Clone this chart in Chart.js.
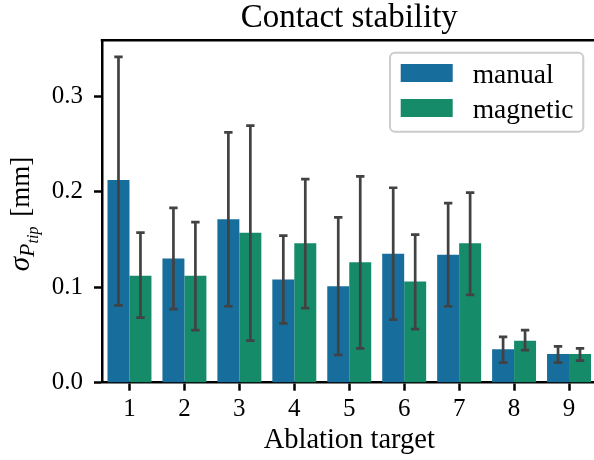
<!DOCTYPE html>
<html><head><meta charset="utf-8">
<script src="https://cdn.jsdelivr.net/npm/chart.js@4/dist/chart.umd.min.js"></script>
<style>
html,body{margin:0;padding:0;overflow:hidden;background:#fff;width:594px;height:460px}
#wrap{width:598px;height:460px;position:relative}
</style>
</head><body><div id="wrap"><canvas id="c" width="598" height="460"></canvas></div>
<script>
const categories = ['1','2','3','4','5','6','7','8','9'];
const seriesNames = ['manual','magnetic'];
const manual     = [0.212, 0.130, 0.171, 0.108, 0.101, 0.135, 0.134, 0.035, 0.030];
const magnetic   = [0.112, 0.112, 0.157, 0.146, 0.126, 0.106, 0.146, 0.044, 0.030];
const manualLo   = [0.081, 0.077, 0.080, 0.062, 0.029, 0.066, 0.080, 0.021, 0.021];
const manualHi   = [0.341, 0.183, 0.262, 0.154, 0.173, 0.204, 0.188, 0.048, 0.038];
const magneticLo = [0.068, 0.055, 0.044, 0.078, 0.036, 0.056, 0.092, 0.034, 0.023];
const magneticHi = [0.157, 0.168, 0.269, 0.213, 0.216, 0.155, 0.199, 0.055, 0.036];
const yTicks = [0.0, 0.1, 0.2, 0.3];
const yMax = 0.3583;

const FONT = "'Liberation Serif', 'Times New Roman', serif";
const colors = ['#176d9c', '#168b6a'];
const errLo = [manualLo, magneticLo];
const errHi = [manualHi, magneticHi];

const decor = {
  id: 'decor',
  afterDatasetsDraw(chart) {
    const ctx = chart.ctx, ys = chart.scales.y;
    ctx.save();
    ctx.strokeStyle = '#424242';
    ctx.lineWidth = 2.7;
    ctx.lineCap = 'butt';
    chart.data.datasets.forEach((ds, i) => {
      const meta = chart.getDatasetMeta(i);
      meta.data.forEach((el, j) => {
        const x = el.x;
        const y1 = ys.getPixelForValue(errLo[i][j]);
        const y2 = ys.getPixelForValue(errHi[i][j]);
        ctx.beginPath();
        ctx.moveTo(x, y1); ctx.lineTo(x, y2);
        ctx.moveTo(x - 4.2, y1); ctx.lineTo(x + 4.2, y1);
        ctx.moveTo(x - 4.2, y2); ctx.lineTo(x + 4.2, y2);
        ctx.stroke();
      });
    });
    ctx.restore();
  },
  afterDraw(chart) {
    const ctx = chart.ctx, a = chart.chartArea;
    ctx.save();
    // top and right spines
    ctx.strokeStyle = '#000';
    ctx.lineWidth = 2.5;
    ctx.beginPath();
    ctx.moveTo(a.left - 1.25, a.top); ctx.lineTo(a.right, a.top); ctx.lineTo(a.right, a.bottom);
    ctx.stroke();

    // title
    ctx.fillStyle = '#000';
    ctx.textAlign = 'center';
    ctx.textBaseline = 'alphabetic';
    ctx.font = '33px ' + FONT;
    ctx.fillText('Contact stability', (a.left + a.right) / 2, 27);

    // x label
    ctx.font = '28.5px ' + FONT;
    ctx.fillText('Ablation target', (a.left + a.right) / 2, 448);

    // legend
    const lx = 390, ly = 52.7, lw = 193.3, lh = 79;
    ctx.beginPath();
    ctx.roundRect(lx, ly, lw, lh, 5);
    ctx.fillStyle = 'rgba(255,255,255,0.8)';
    ctx.fill();
    ctx.strokeStyle = '#cccccc';
    ctx.lineWidth = 2;
    ctx.stroke();
    ctx.textAlign = 'left';
    ctx.font = '27.5px ' + FONT;
    chart.data.datasets.forEach((ds, i) => {
      const py = 64 + i * 35;
      ctx.fillStyle = ds.backgroundColor;
      ctx.fillRect(400.7, py, 52, 18);
      ctx.fillStyle = '#000';
      ctx.fillText(ds.label, 472.7, py + 18.5);
    });

    // y label: sigma_{P_tip} [mm]
    ctx.translate(29, 214);
    ctx.rotate(-Math.PI / 2);
    const parts = [
      {t: 'σ', f: 'italic 29px ' + FONT, dy: 0},
      {t: 'P', f: 'italic 22px ' + FONT, dy: 4.5},
      {t: 'tip', f: 'italic 16px ' + FONT, dy: 8.5},
      {t: ' [mm]', f: '27px ' + FONT, dy: 0, gap: 3}
    ];
    let total = 0;
    parts.forEach(p => { ctx.font = p.f; p.w = ctx.measureText(p.t).width; total += p.w + (p.gap || 0); });
    let x = -total / 2;
    ctx.fillStyle = '#000';
    ctx.textAlign = 'left';
    parts.forEach(p => {
      x += (p.gap || 0);
      ctx.font = p.f;
      ctx.fillText(p.t, x, p.dy);
      x += p.w;
    });
    ctx.restore();
  }
};

new Chart(document.getElementById('c'), {
  type: 'bar',
  data: {
    labels: categories,
    datasets: [
      {label: seriesNames[0], data: manual, backgroundColor: colors[0], borderWidth: 0},
      {label: seriesNames[1], data: magnetic, backgroundColor: colors[1], borderWidth: 0}
    ]
  },
  options: {
    responsive: false,
    animation: false,
    devicePixelRatio: 1,
    layout: {padding: {top: 40.3, left: 0, right: 1.5, bottom: 0}},
    datasets: {bar: {categoryPercentage: 0.8, barPercentage: 1.0}},
    plugins: {legend: {display: false}, title: {display: false}, tooltip: {enabled: false}},
    scales: {
      x: {
        offset: true,
        grid: {display: true, offset: false, drawOnChartArea: false, drawTicks: true, tickLength: 8, tickWidth: 2.5, tickColor: '#000'},
        border: {display: true, color: '#000', width: 2.5},
        ticks: {color: '#000', font: {family: FONT, size: 25}, padding: 4, maxRotation: 0},
        afterFit(s) { s.height = 460 - 382.7; }
      },
      y: {
        min: 0, max: yMax,
        grid: {display: true, drawOnChartArea: false, drawTicks: true, tickLength: 8, tickWidth: 2.5, tickColor: '#000'},
        border: {display: true, color: '#000', width: 2.5},
        ticks: {color: '#000', font: {family: FONT, size: 25}, padding: 11, callback: v => v.toFixed(1)},
        afterBuildTicks(s) { s.ticks = yTicks.map(v => ({value: v})); },
        afterFit(s) { s.width = 102; }
      }
    }
  },
  plugins: [decor]
});
</script>
</body></html>
